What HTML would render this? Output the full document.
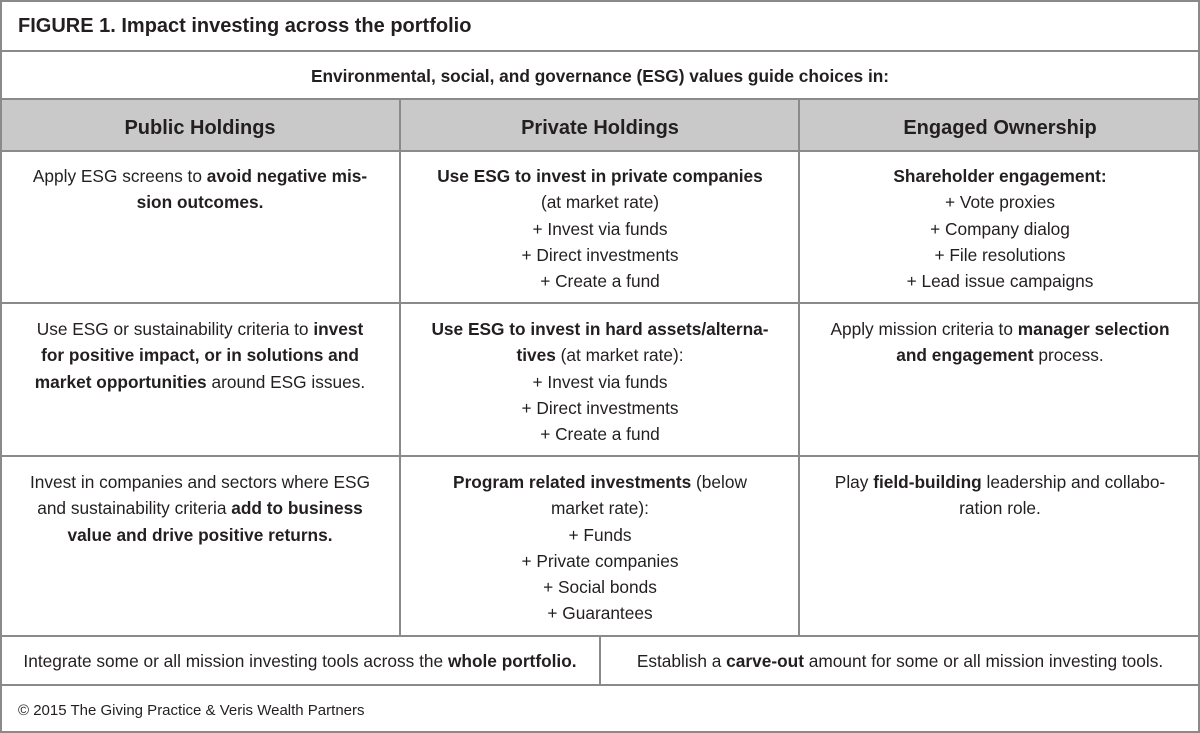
<!DOCTYPE html>
<html><head><meta charset="utf-8"><style>
*{margin:0;padding:0;box-sizing:border-box}
body{width:1200px;height:733px;background:#fff;font-family:"Liberation Sans",sans-serif;color:#231f20;position:relative;overflow:hidden}
.h{position:absolute;height:2px;background:#8a8a8a;left:0;width:1200px}
.v{position:absolute;width:2px;background:#8a8a8a}
.t{position:absolute;font-size:17.3px;line-height:26.3px;text-align:center}
b{font-weight:bold}
</style></head><body>
<div style="position:absolute;left:0;top:99px;width:1200px;height:52px;background:#c9c9c9"></div>
<div class="h" style="top:0"></div>
<div class="h" style="top:50px"></div>
<div class="h" style="top:98px"></div>
<div class="h" style="top:150px"></div>
<div class="h" style="top:302px"></div>
<div class="h" style="top:455px"></div>
<div class="h" style="top:635px"></div>
<div class="h" style="top:684px"></div>
<div class="h" style="top:731px"></div>
<div class="v" style="left:0;top:0;height:733px"></div>
<div class="v" style="left:1198px;top:0;height:733px"></div>
<div class="v" style="left:399px;top:99px;height:537px"></div>
<div class="v" style="left:798px;top:99px;height:537px"></div>
<div class="v" style="left:599px;top:636px;height:49px"></div>

<div style="position:absolute;left:18px;top:15px;font-size:20px;font-weight:bold">FIGURE 1. Impact investing across the portfolio</div>
<div class="t" style="left:0;width:1200px;top:63px;font-weight:bold">Environmental, social, and governance (ESG) values guide choices in:</div>
<div class="t" style="left:0;width:400px;top:115px;font-size:20px;font-weight:bold">Public Holdings</div>
<div class="t" style="left:400px;width:400px;top:115px;font-size:20px;font-weight:bold">Private Holdings</div>
<div class="t" style="left:800px;width:400px;top:115px;font-size:20px;font-weight:bold">Engaged Ownership</div>

<div class="t" style="left:10px;width:380px;top:163px">Apply ESG screens to <b>avoid negative mis-<br>sion outcomes.</b></div>
<div class="t" style="left:410px;width:380px;top:163px"><b>Use ESG to invest in private companies</b><br>(at market rate)<br>+ Invest via funds<br>+ Direct investments<br>+ Create a fund</div>
<div class="t" style="left:810px;width:380px;top:163px"><b>Shareholder engagement:</b><br>+ Vote proxies<br>+ Company dialog<br>+ File resolutions<br>+ Lead issue campaigns</div>

<div class="t" style="left:10px;width:380px;top:316px">Use ESG or sustainability criteria to <b>invest<br>for positive impact, or in solutions and<br>market opportunities</b> around ESG issues.</div>
<div class="t" style="left:410px;width:380px;top:316px"><b>Use ESG to invest in hard assets/alterna-<br>tives</b> (at market rate):<br>+ Invest via funds<br>+ Direct investments<br>+ Create a fund</div>
<div class="t" style="left:810px;width:380px;top:316px">Apply mission criteria to <b>manager selection<br>and engagement</b> process.</div>

<div class="t" style="left:10px;width:380px;top:469px">Invest in companies and sectors where ESG<br>and sustainability criteria <b>add to business<br>value and drive positive returns.</b></div>
<div class="t" style="left:410px;width:380px;top:469px"><b>Program related investments</b> (below<br>market rate):<br>+ Funds<br>+ Private companies<br>+ Social bonds<br>+ Guarantees</div>
<div class="t" style="left:810px;width:380px;top:469px">Play <b>field-building</b> leadership and collabo-<br>ration role.</div>

<div class="t" style="left:0;width:600px;top:648px">Integrate some or all mission investing tools across the <b>whole portfolio.</b></div>
<div class="t" style="left:600px;width:600px;top:648px">Establish a <b>carve-out</b> amount for some or all mission investing tools.</div>
<div style="position:absolute;left:18px;top:702px;font-size:15px">© 2015 The Giving Practice &amp; Veris Wealth Partners</div>
</body></html>
